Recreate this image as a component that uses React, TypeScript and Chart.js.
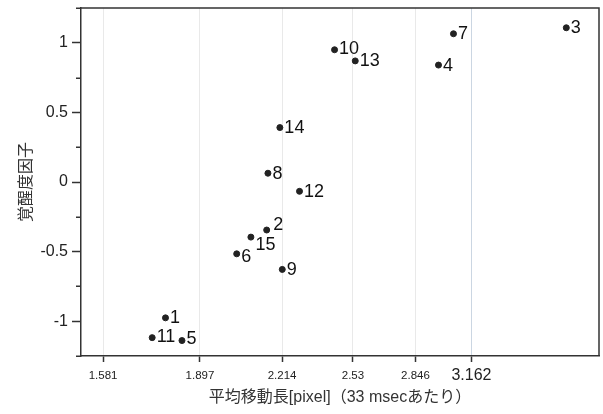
import React, { useEffect, useRef } from "react";
import { Chart, registerables } from "chart.js";

Chart.register(...registerables);

const pointLabels = ["1", "2", "3", "4", "5", "6", "7", "8", "9", "10", "11", "12", "13", "14", "15"];
const xValues = [1.778, 2.151, 3.78, 2.972, 1.834, 2.033, 3.057, 2.156, 2.215, 2.444, 1.734, 2.288, 2.541, 2.205, 2.088];
const yValues = [-0.976, -0.345, 1.108, 0.84, -1.139, -0.516, 1.065, 0.063, -0.628, 0.95, -1.118, -0.067, 0.87, 0.391, -0.396];
const xTicks = [1.581, 1.897, 2.214, 2.53, 2.846, 3.162];
const xTickLabels = ["1.581", "1.897", "2.214", "2.53", "2.846", "3.162"];
const xTitle = "平均移動長[pixel]（33 msecあたり）";
const yTitle = "覚醒度因子";
// label nudges (px) for a few crowded labels, in point order
const labelNudgeX = [0, 2, 0, 0, 0, 0, 0, 0, 0, 0, 0, 0, 0, 0, 0];
const labelNudgeY = [0, -5, 0, 0, -2, 3, 0, 0, 0, -1.5, -1, 0, 0, 0, 7];

const LATIN = '"Liberation Sans", Arial, Helvetica, sans-serif';
const MIXED = '"Liberation Sans", "Noto Sans CJK JP", sans-serif';

const isMajorY = (v: number) => Math.abs(v * 2 - Math.round(v * 2)) < 1e-9;

const labelPlugin = {
  id: "pointLabels",
  afterDatasetsDraw(chart: any) {
    const ctx = chart.ctx;
    const meta = chart.getDatasetMeta(0);
    ctx.save();
    ctx.font = `18px ${LATIN}`;
    ctx.fillStyle = "#111";
    ctx.textBaseline = "middle";
    ctx.textAlign = "left";
    meta.data.forEach((el: any, i: number) => {
      ctx.fillText(pointLabels[i], el.x + 4.5 + labelNudgeX[i], el.y + 0.5 + labelNudgeY[i]);
    });
    ctx.restore();
  },
};

const framePlugin = {
  id: "frame",
  afterDraw(chart: any) {
    const { ctx, chartArea } = chart;
    const y = chart.scales.y;
    ctx.save();
    ctx.strokeStyle = "#333";
    ctx.lineWidth = 1.5;
    ctx.beginPath();
    ctx.moveTo(chartArea.left, chartArea.top);
    ctx.lineTo(chartArea.right, chartArea.top);
    ctx.lineTo(chartArea.right, chartArea.bottom);
    ctx.stroke();
    y.ticks.forEach((t: any) => {
      if (!isMajorY(t.value)) {
        const py = Math.round(y.getPixelForValue(t.value)) + 0.25;
        ctx.beginPath();
        ctx.moveTo(chartArea.left, py);
        ctx.lineTo(chartArea.left - 5, py);
        ctx.stroke();
      }
    });
    ctx.restore();
  },
};

export default function App() {
  const ref = useRef<HTMLCanvasElement | null>(null);
  useEffect(() => {
    if (!ref.current) return;
    const chart = new Chart(ref.current, {
      type: "scatter",
      data: {
        datasets: [
          {
            data: xValues.map((x, i) => ({ x, y: yValues[i] })),
            backgroundColor: "#222",
            borderColor: "#222",
            pointRadius: 3,
            pointHoverRadius: 3,
          },
        ],
      },
      options: {
        animation: false,
        responsive: true,
        maintainAspectRatio: false,
        events: [],
        layout: { padding: { top: 8, right: 2, left: 0, bottom: 0 } },
        plugins: { legend: { display: false }, tooltip: { enabled: false } },
        scales: {
          x: {
            type: "logarithmic",
            position: "bottom",
            min: 1.5166,
            max: 4.02,
            bounds: "data",
            afterBuildTicks: (scale: any) => {
              scale.ticks = xTicks.map((v) => ({ value: v }));
            },
            afterFit: (scale: any) => {
              scale.height = 58;
              scale.paddingLeft = 0;
              scale.paddingRight = 0;
            },
            border: { display: true, color: "#333", width: 1.5 },
            grid: {
              display: true,
              drawOnChartArea: true,
              drawTicks: true,
              tickLength: 6,
              lineWidth: 1,
              color: (c: any) => (c.index === 5 ? "#cbd6e2" : "#e9e9e9"),
              tickColor: "#333",
              tickWidth: 1.5,
            },
            ticks: {
              autoSkip: false,
              maxRotation: 0,
              minRotation: 0,
              padding: 7,
              color: "#222",
              callback: (_v: any, i: number) => xTickLabels[i],
              font: (c: any) =>
                c.index === 5
                  ? { family: LATIN, size: 16, lineHeight: "14px" }
                  : { family: LATIN, size: 11.5, lineHeight: "14px" },
            },
            title: {
              display: true,
              text: xTitle,
              color: "#333",
              font: { family: MIXED, size: 16 },
              padding: { top: 0, bottom: 7 },
            },
          },
          y: {
            type: "linear",
            position: "left",
            min: -1.25,
            max: 1.25,
            afterFit: (scale: any) => {
              scale.width = 81;
              scale.paddingTop = 0;
              scale.paddingBottom = 0;
            },
            border: { display: true, color: "#333", width: 1.5 },
            grid: {
              display: true,
              drawOnChartArea: false,
              drawTicks: true,
              tickLength: 9,
              tickWidth: 1.5,
              tickColor: (c: any) => (c.tick && isMajorY(c.tick.value) ? "#333" : "rgba(0,0,0,0)"),
            },
            ticks: {
              stepSize: 0.25,
              autoSkip: false,
              padding: 4,
              color: "#222",
              font: { family: LATIN, size: 16 },
              callback: (v: any) => (isMajorY(Number(v)) ? String(Number(v)) : ""),
            },
            title: {
              display: true,
              text: yTitle,
              color: "#333",
              font: { family: '"Noto Sans CJK JP", sans-serif', size: 16 },
              padding: { top: 15, bottom: 0 },
            },
          },
        },
      },
      plugins: [labelPlugin, framePlugin],
    } as any);
    return () => chart.destroy();
  }, []);
  return (
    <div style={{ position: "fixed", left: 0, top: 0, width: 603, height: 414 }}>
      <canvas ref={ref} />
    </div>
  );
}
